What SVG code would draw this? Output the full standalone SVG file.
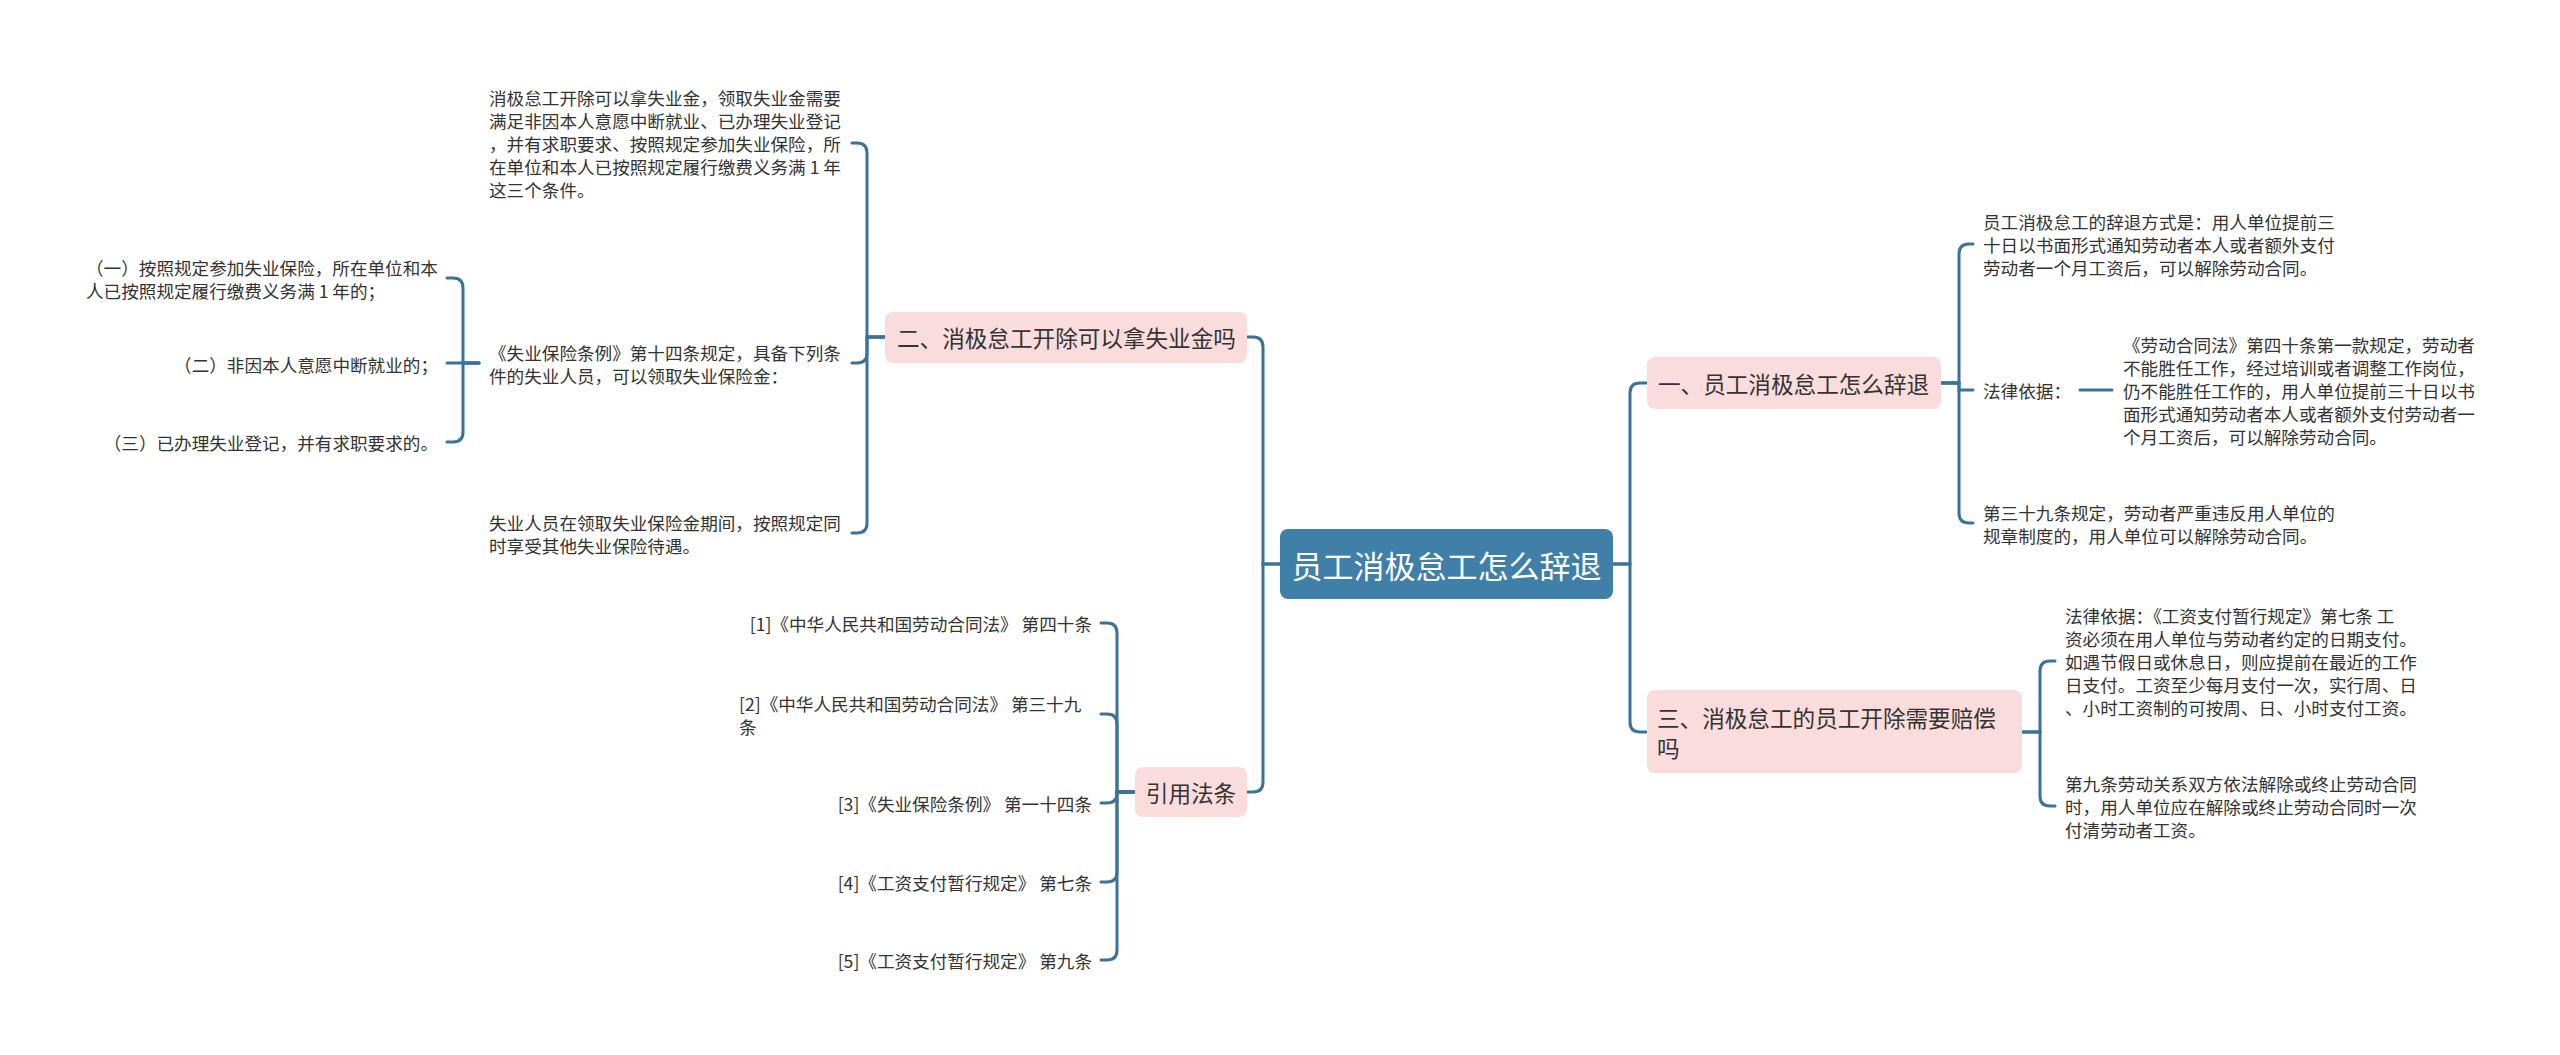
<svg xmlns="http://www.w3.org/2000/svg" width="2560" height="1055" viewBox="0 0 2560 1055">
<style>
text{font-family:"Noto Sans CJK SC","Noto Sans",sans-serif;fill:#333;dominant-baseline:central}
.leaf{font-size:17.6px}
.l1{font-size:22.6px}
.root{font-size:31px;fill:#fff}
.c{fill:none;stroke:#3b7298;stroke-width:3;stroke-linecap:round}
.pink{fill:#fadcdc}
</style>
<rect width="2560" height="1055" fill="#fff"/>
<g id="connectors">
<path class="c" d="M1280,564 H1263 V347 Q1263,337 1253,337 H1247"/>
<path class="c" d="M1280,564 H1263 V782 Q1263,792 1253,792 H1247"/>
<path class="c" d="M1613,564 H1630 V393 Q1630,383 1640,383 H1647"/>
<path class="c" d="M1613,564 H1630 V722 Q1630,732 1640,732 H1647"/>
<path class="c" d="M885,337 H867 V153 Q867,143 857,143 H852"/>
<path class="c" d="M885,337 H867 V353 Q867,363 857,363 H852"/>
<path class="c" d="M885,337 H867 V523 Q867,533 857,533 H852"/>
<path class="c" d="M479,363 H463 V288 Q463,278 453,278 H447"/>
<path class="c" d="M479,363 H447"/>
<path class="c" d="M479,363 H463 V432 Q463,442 453,442 H447"/>
<path class="c" d="M1135,792 H1117 V633 Q1117,623 1107,623 H1101"/>
<path class="c" d="M1135,792 H1117 V724 Q1117,714 1107,714 H1101"/>
<path class="c" d="M1135,792 H1117 V793 Q1117,803 1107,803 H1101"/>
<path class="c" d="M1135,792 H1117 V872 Q1117,882 1107,882 H1101"/>
<path class="c" d="M1135,792 H1117 V950 Q1117,960 1107,960 H1101"/>
<path class="c" d="M1941,383 H1959 V254 Q1959,244 1969,244 H1973"/>
<path class="c" d="M1941,383 H1959 V390 H1973"/>
<path class="c" d="M1941,383 H1959 V513 Q1959,523 1969,523 H1973"/>
<path class="c" d="M2080,390 H2112"/>
<path class="c" d="M2022,732 H2040 V671 Q2040,661 2050,661 H2055"/>
<path class="c" d="M2022,732 H2040 V796 Q2040,806 2050,806 H2055"/>
</g>
<g id="root">
<rect x="1280" y="529" width="333" height="70" rx="8" fill="#407fa7"/>
<text class="root" x="1446.5" y="564" text-anchor="middle">员工消极怠工怎么辞退</text>
</g>
<g id="n1">
<rect class="pink" x="1647" y="357" width="294" height="52" rx="8"/>
<text class="l1" x="1658" y="383">一、员工消极怠工怎么辞退</text>
</g>
<g id="n2">
<rect class="pink" x="885" y="312" width="362" height="51" rx="8"/>
<text class="l1" x="897" y="337.5">二、消极怠工开除可以拿失业金吗</text>
</g>
<g id="n3">
<rect class="pink" x="1647" y="690" width="375" height="83" rx="8"/>
<text class="l1" x="1657" y="717">三、消极怠工的员工开除需要赔偿</text>
<text class="l1" x="1657" y="747">吗</text>
</g>
<g id="n4">
<rect class="pink" x="1135" y="767" width="112" height="50" rx="8"/>
<text class="l1" x="1191" y="792" text-anchor="middle">引用法条</text>
</g>
<g id="n2-1">
<text class="leaf" x="489" y="97">消极怠工开除可以拿失业金，领取失业金需要</text>
<text class="leaf" x="489" y="120">满足非因本人意愿中断就业、已办理失业登记</text>
<text class="leaf" x="489" y="143">，并有求职要求、按照规定参加失业保险，所</text>
<text class="leaf" x="489" y="166">在单位和本人已按照规定履行缴费义务满 1 年</text>
<text class="leaf" x="489" y="189">这三个条件。</text>
</g>
<g id="n2-2">
<text class="leaf" x="489" y="352">《失业保险条例》第十四条规定，具备下列条</text>
<text class="leaf" x="489" y="375">件的失业人员，可以领取失业保险金：</text>
</g>
<g id="n2-2-1">
<text class="leaf" x="86" y="267">（一）按照规定参加失业保险，所在单位和本</text>
<text class="leaf" x="86" y="290">人已按照规定履行缴费义务满 1 年的；</text>
</g>
<g id="n2-2-2">
<text class="leaf" x="438" y="364" text-anchor="end">（二）非因本人意愿中断就业的；</text>
</g>
<g id="n2-2-3">
<text class="leaf" x="438" y="442" text-anchor="end">（三）已办理失业登记，并有求职要求的。</text>
</g>
<g id="n2-3">
<text class="leaf" x="489" y="522">失业人员在领取失业保险金期间，按照规定同</text>
<text class="leaf" x="489" y="545">时享受其他失业保险待遇。</text>
</g>
<g id="n4-1"><text class="leaf" x="1092" y="623" text-anchor="end">[1]《中华人民共和国劳动合同法》 第四十条</text></g>
<g id="n4-2">
<text class="leaf" x="739" y="703">[2]《中华人民共和国劳动合同法》 第三十九</text>
<text class="leaf" x="739" y="726">条</text>
</g>
<g id="n4-3"><text class="leaf" x="1092" y="803" text-anchor="end">[3]《失业保险条例》 第一十四条</text></g>
<g id="n4-4"><text class="leaf" x="1092" y="882" text-anchor="end">[4]《工资支付暂行规定》 第七条</text></g>
<g id="n4-5"><text class="leaf" x="1092" y="960" text-anchor="end">[5]《工资支付暂行规定》 第九条</text></g>
<g id="n1-1">
<text class="leaf" x="1983" y="221">员工消极怠工的辞退方式是：用人单位提前三</text>
<text class="leaf" x="1983" y="244">十日以书面形式通知劳动者本人或者额外支付</text>
<text class="leaf" x="1983" y="267">劳动者一个月工资后，可以解除劳动合同。</text>
</g>
<g id="n1-2"><text class="leaf" x="1983" y="390">法律依据：</text></g>
<g id="n1-2-1">
<text class="leaf" x="2123" y="344">《劳动合同法》第四十条第一款规定，劳动者</text>
<text class="leaf" x="2123" y="367">不能胜任工作，经过培训或者调整工作岗位，</text>
<text class="leaf" x="2123" y="390">仍不能胜任工作的，用人单位提前三十日以书</text>
<text class="leaf" x="2123" y="413">面形式通知劳动者本人或者额外支付劳动者一</text>
<text class="leaf" x="2123" y="436">个月工资后，可以解除劳动合同。</text>
</g>
<g id="n1-3">
<text class="leaf" x="1983" y="512">第三十九条规定，劳动者严重违反用人单位的</text>
<text class="leaf" x="1983" y="535">规章制度的，用人单位可以解除劳动合同。</text>
</g>
<g id="n3-1">
<text class="leaf" x="2065" y="615">法律依据：《工资支付暂行规定》第七条 工</text>
<text class="leaf" x="2065" y="638">资必须在用人单位与劳动者约定的日期支付。</text>
<text class="leaf" x="2065" y="661">如遇节假日或休息日，则应提前在最近的工作</text>
<text class="leaf" x="2065" y="684">日支付。工资至少每月支付一次，实行周、日</text>
<text class="leaf" x="2065" y="707">、小时工资制的可按周、日、小时支付工资。</text>
</g>
<g id="n3-2">
<text class="leaf" x="2065" y="783">第九条劳动关系双方依法解除或终止劳动合同</text>
<text class="leaf" x="2065" y="806">时，用人单位应在解除或终止劳动合同时一次</text>
<text class="leaf" x="2065" y="829">付清劳动者工资。</text>
</g>
</svg>
